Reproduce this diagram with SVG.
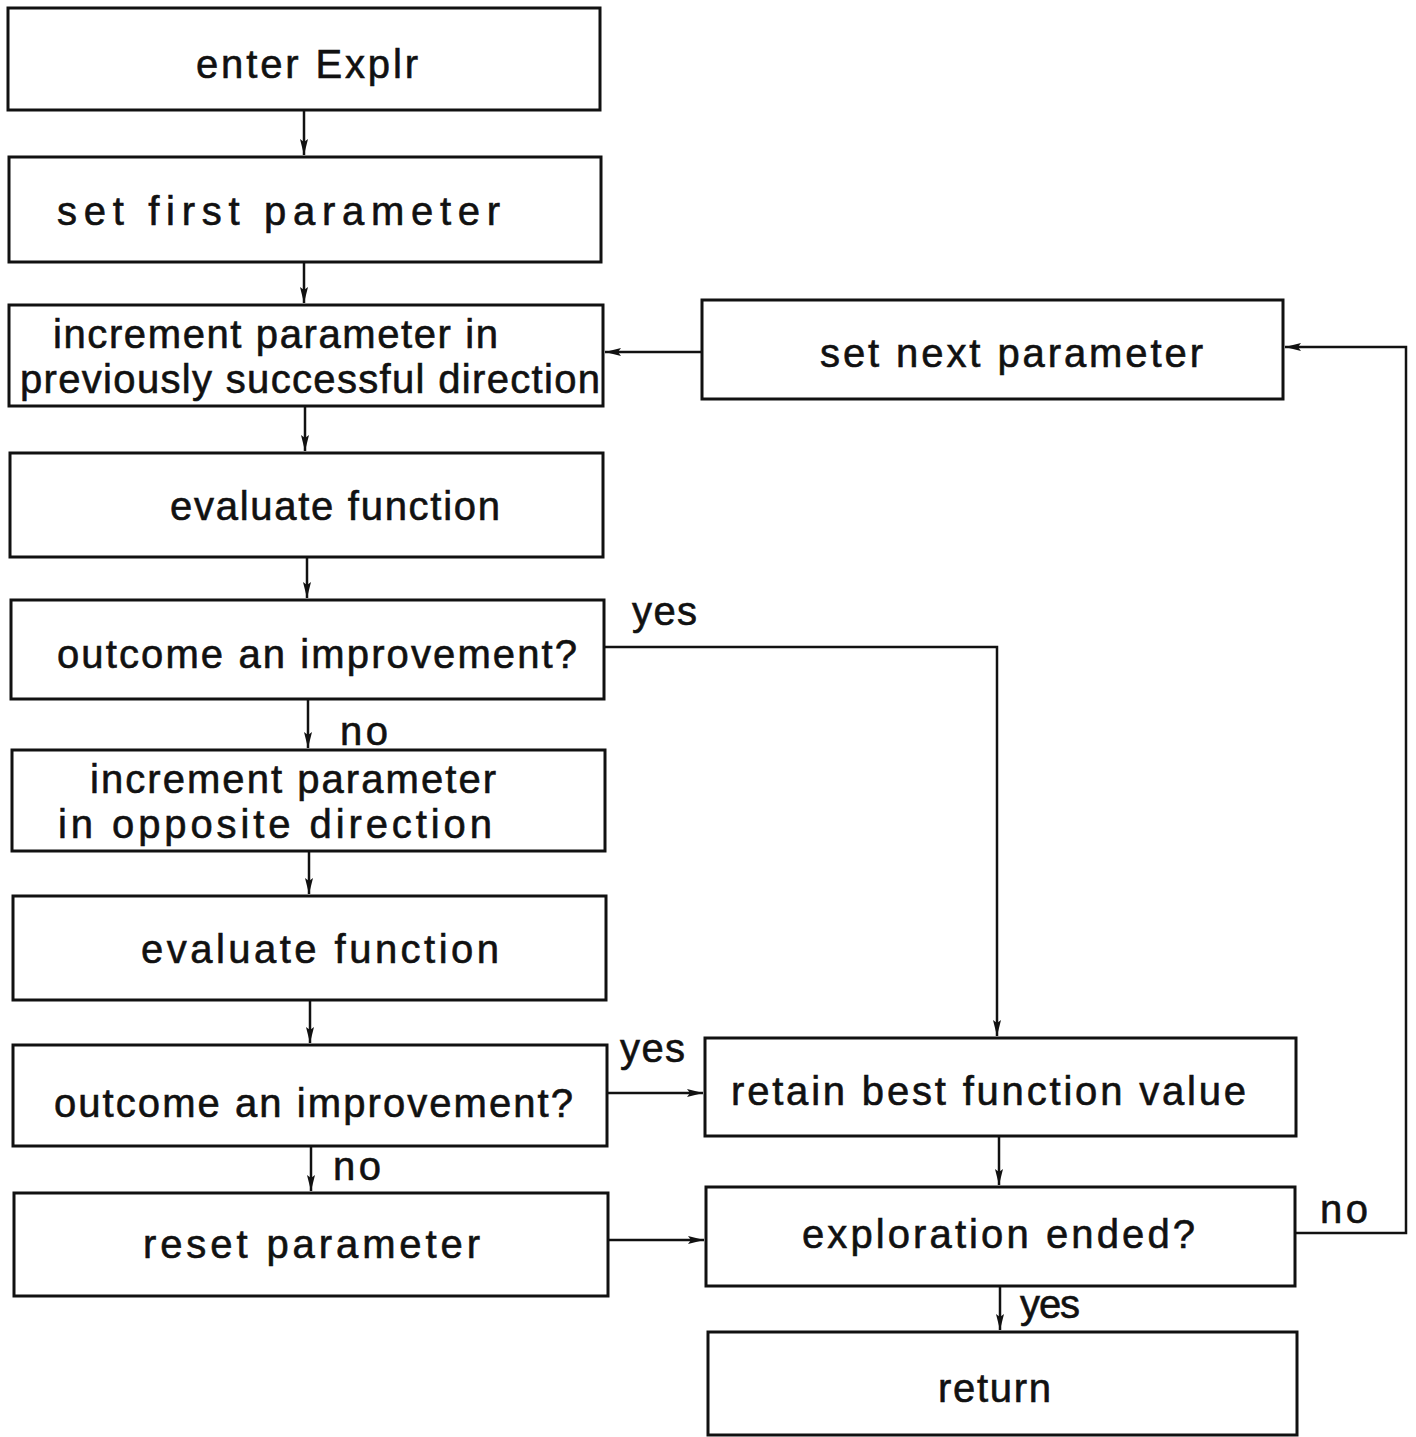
<svg xmlns="http://www.w3.org/2000/svg" width="1416" height="1437" viewBox="0 0 1416 1437">
<style>
.box{fill:#fff;stroke:#111;stroke-width:3}
.t{font-family:"Liberation Sans",Arial,sans-serif;font-size:40px;fill:#111;stroke:#111;stroke-width:0.6}
.c{fill:none;stroke:#111;stroke-width:2.5}
</style>
<defs>
<marker id="ah" viewBox="0 0 16 10" refX="16" refY="5" markerWidth="16" markerHeight="10" markerUnits="userSpaceOnUse" orient="auto">
<path d="M0,1 L16,5 L0,9 L3,5 Z" fill="#111"/>
</marker>
</defs>
<rect width="1416" height="1437" fill="#fff"/>
<g id="connectors">
<line class="c" x1="304" y1="110" x2="304" y2="155" marker-end="url(#ah)"/>
<line class="c" x1="304" y1="262" x2="304" y2="303" marker-end="url(#ah)"/>
<line class="c" x1="305" y1="406" x2="305" y2="451" marker-end="url(#ah)"/>
<line class="c" x1="307" y1="557" x2="307" y2="598" marker-end="url(#ah)"/>
<line class="c" x1="308" y1="699" x2="308" y2="748" marker-end="url(#ah)"/>
<line class="c" x1="309" y1="851" x2="309" y2="894" marker-end="url(#ah)"/>
<line class="c" x1="310" y1="1000" x2="310" y2="1043" marker-end="url(#ah)"/>
<line class="c" x1="311" y1="1146" x2="311" y2="1191" marker-end="url(#ah)"/>
<polyline class="c" points="604,647 997,647 997,1036" marker-end="url(#ah)"/>
<line class="c" x1="607" y1="1093" x2="703" y2="1093" marker-end="url(#ah)"/>
<line class="c" x1="608" y1="1240" x2="704" y2="1240" marker-end="url(#ah)"/>
<line class="c" x1="999" y1="1136" x2="999" y2="1185" marker-end="url(#ah)"/>
<line class="c" x1="1000" y1="1286" x2="1000" y2="1330" marker-end="url(#ah)"/>
<polyline class="c" points="1295,1233 1406,1233 1406,347 1285,347" marker-end="url(#ah)"/>
<line class="c" x1="702" y1="352" x2="605" y2="352" marker-end="url(#ah)"/>
<text class="t" x="632" y="625" textLength="65">yes</text>
<text class="t" x="340" y="745" textLength="48">no</text>
<text class="t" x="620" y="1062" textLength="65">yes</text>
<text class="t" x="333" y="1180" textLength="48">no</text>
<text class="t" x="1020" y="1318" textLength="60">yes</text>
<text class="t" x="1320" y="1223" textLength="48">no</text>
</g>
<g id="n1"><rect class="box" x="8" y="8" width="592" height="102"/><text class="t" x="196" y="78" textLength="222">enter Explr</text></g>
<g id="n2"><rect class="box" x="9" y="157" width="592" height="105"/><text class="t" x="57" y="225" textLength="443">set  first  parameter</text></g>
<g id="n3"><rect class="box" x="9" y="305" width="594" height="101"/><text class="t" x="53" y="348" textLength="445">increment parameter  in</text><text class="t" x="20" y="393" textLength="580">previously successful direction</text></g>
<g id="n4"><rect class="box" x="10" y="453" width="593" height="104"/><text class="t" x="170" y="520" textLength="330">evaluate  function</text></g>
<g id="n5"><rect class="box" x="11" y="600" width="593" height="99"/><text class="t" x="57" y="668" textLength="520">outcome  an  improvement?</text></g>
<g id="n6"><rect class="box" x="12" y="750" width="593" height="101"/><text class="t" x="90" y="793" textLength="406">increment  parameter</text><text class="t" x="58" y="838" textLength="434">in  opposite  direction</text></g>
<g id="n7"><rect class="box" x="13" y="896" width="593" height="104"/><text class="t" x="141" y="963" textLength="358">evaluate  function</text></g>
<g id="n8"><rect class="box" x="13" y="1045" width="594" height="101"/><text class="t" x="54" y="1117" textLength="519">outcome  an  improvement?</text></g>
<g id="n9"><rect class="box" x="14" y="1193" width="594" height="103"/><text class="t" x="143" y="1258" textLength="337">reset  parameter</text></g>
<g id="n10"><rect class="box" x="702" y="300" width="581" height="99"/><text class="t" x="820" y="367" textLength="383">set  next  parameter</text></g>
<g id="n11"><rect class="box" x="705" y="1038" width="591" height="98"/><text class="t" x="731" y="1105" textLength="515">retain  best  function  value</text></g>
<g id="n12"><rect class="box" x="706" y="1187" width="589" height="99"/><text class="t" x="802" y="1248" textLength="393">exploration  ended?</text></g>
<g id="n13"><rect class="box" x="708" y="1332" width="589" height="103"/><text class="t" x="938" y="1402" textLength="113">return</text></g>
</svg>
